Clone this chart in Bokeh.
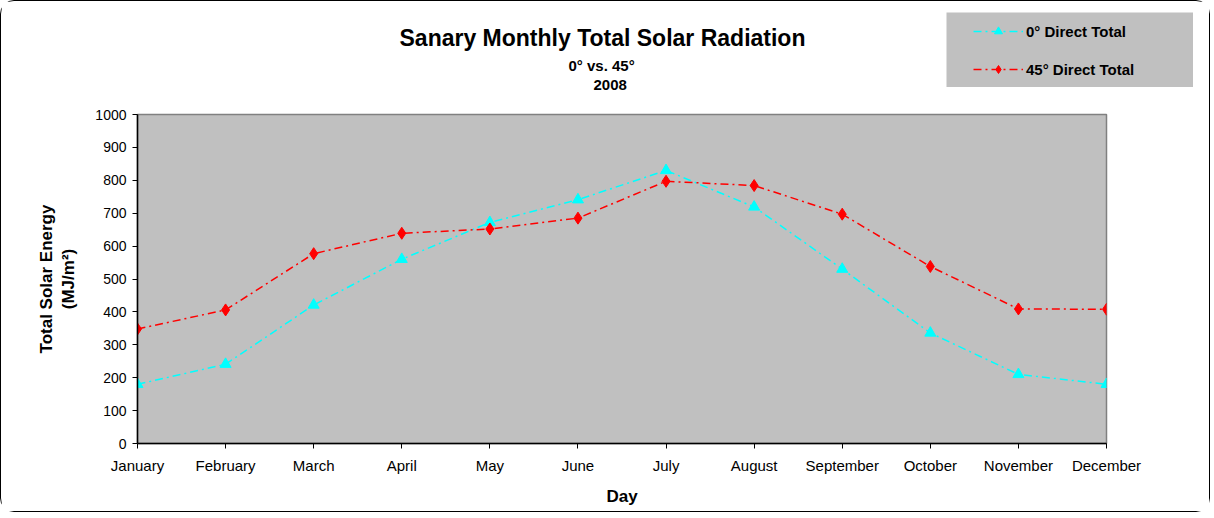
from bokeh.plotting import figure
from bokeh.models import Range1d, FixedTicker, Title, Legend, LegendItem
from bokeh.embed import file_html
from bokeh.resources import INLINE

months = ["January", "February", "March", "April", "May", "June", "July",
          "August", "September", "October", "November", "December"]
direct_0 = [180, 241, 421, 560, 672, 741, 830, 719, 530, 336, 210, 180]
direct_45 = [348, 406, 577, 639, 652, 685, 797, 784, 697, 538, 409, 408]
y_ticks = [0, 100, 200, 300, 400, 500, 600, 700, 800, 900, 1000]
series_names = ["0\u00b0 Direct Total", "45\u00b0 Direct Total"]

x = list(range(len(months)))
FONT = "Liberation Sans"
CYAN = "#00FFFF"
RED = "#FF0000"
GRAY = "#C0C0C0"

p = figure(width=1210, height=512, x_range=Range1d(0, len(months) - 1), y_range=Range1d(0, 1000),
           output_backend="svg", toolbar_location=None, title=None,
           min_border_left=136, min_border_right=105, min_border_top=113, min_border_bottom=70,
           background_fill_color=GRAY, border_fill_color="white")

p.xgrid.visible = False
p.ygrid.visible = False
p.outline_line_color = "#808080"
p.outline_line_width = 1.5

# axes
p.xaxis.ticker = FixedTicker(ticks=x)
p.xaxis.major_label_overrides = {i: m for i, m in enumerate(months)}
p.yaxis.ticker = FixedTicker(ticks=y_ticks)
for ax in (p.xaxis, p.yaxis):
    ax.axis_line_color = "black"
    ax.axis_line_width = 1.5
    ax.major_tick_line_color = "black"
    ax.major_tick_in = 0
    ax.major_tick_out = 5
    ax.minor_tick_line_color = None
    ax.major_label_text_font = FONT
    ax.major_label_text_color = "black"
    ax.axis_label_text_font = FONT
    ax.axis_label_text_font_style = "bold"
    ax.axis_label_text_color = "black"
    ax.axis_label_text_font_size = "17px"
p.xaxis.major_label_text_font_size = "15px"
p.yaxis.major_label_text_font_size = "14px"
p.xaxis.major_label_standoff = 8
p.yaxis.major_label_standoff = 6
p.xaxis.axis_label = "Day"
p.xaxis.axis_label_standoff = 10
p.yaxis.axis_label = "Total Solar Energy\n(MJ/m\u00b2)"
p.yaxis.axis_label_standoff = 14

# series
p.line(x, direct_0, line_color=CYAN, line_width=1.5, line_dash="8 4 2 4")
p.scatter(x, direct_0, marker="triangle", size=11, fill_color=CYAN, line_color=CYAN)
p.line(x, direct_45, line_color=RED, line_width=1.5, line_dash="8 4 2 4")
p.scatter(x, direct_45, marker="diamond", size=12, fill_color=RED, line_color=RED)

# titles (innermost first); the first one is a blank spacer
for txt, size, standoff, offset in [(" ", "15px", 4, 0), ("2008", "15px", 4, 456),
                                    ("0\u00b0 vs. 45\u00b0", "15px", 4, 431),
                                    ("Sanary Monthly Total Solar Radiation", "23px", 3, 262)]:
    t = Title(text=txt, align="left", offset=offset, text_font=FONT, text_font_size=size,
              text_font_style="bold", text_color="black", standoff=standoff)
    p.add_layout(t, "above")

p.styles = {"border": "1.5px solid black", "border-radius": "14px"}

# legend box (separate small canvas placed over the top-right corner)
lg = figure(width=247, height=75, x_range=Range1d(-20, -10), y_range=Range1d(-2000, -1000),
            output_backend="svg", toolbar_location=None, title=None,
            x_axis_location=None, y_axis_location=None, min_border=0,
            background_fill_color=GRAY, border_fill_color=GRAY)
lg.outline_line_color = None
lg.xgrid.visible = False
lg.ygrid.visible = False
g0l = lg.line(x, direct_0, line_color=CYAN, line_width=1.5, line_dash="8 4 2 4")
g0s = lg.scatter(x, direct_0, marker="triangle", size=11, fill_color=CYAN, line_color=CYAN)
g1l = lg.line(x, direct_45, line_color=RED, line_width=1.5, line_dash="8 4 2 4")
g1s = lg.scatter(x, direct_45, marker="diamond", size=12, fill_color=RED, line_color=RED)
legend = Legend(items=[LegendItem(label=series_names[0], renderers=[g0l, g0s]),
                       LegendItem(label=series_names[1], renderers=[g1l, g1s])],
                location=(27, 8), orientation="vertical",
                background_fill_alpha=0.0, border_line_color=None,
                padding=0, margin=0, spacing=18,
                glyph_width=50, glyph_height=20, label_height=20,
                label_standoff=3, label_text_font=FONT, label_text_font_style="bold",
                label_text_font_size="15px", label_text_color="black")
lg.add_layout(legend, "center")
lg.styles = {"position": "absolute", "left": "946px", "top": "12px"}

open("out.html", "w").write(file_html([p, lg], INLINE))
